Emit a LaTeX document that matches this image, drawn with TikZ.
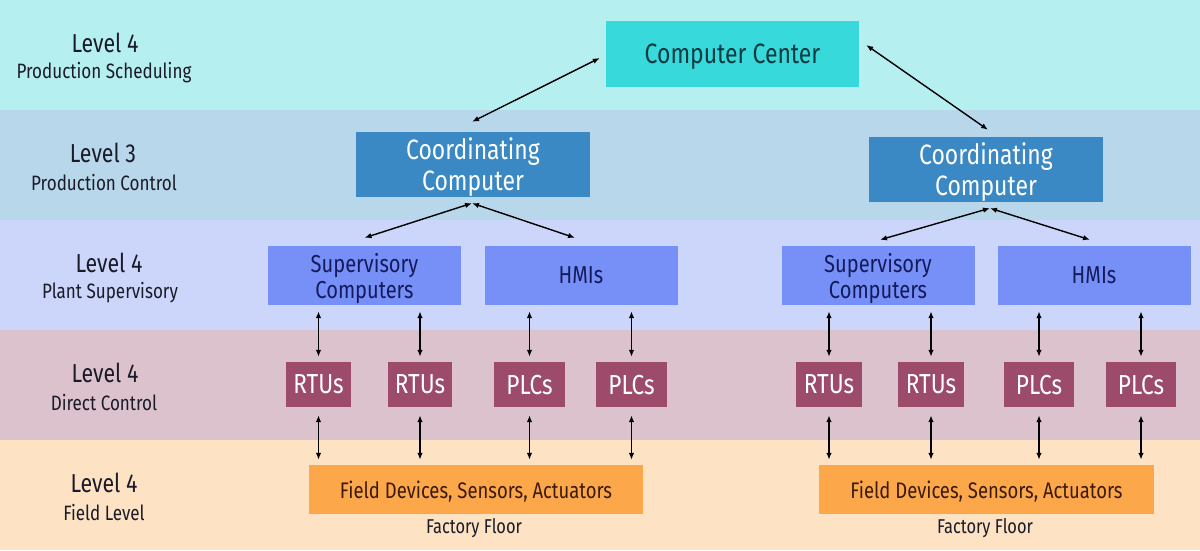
\documentclass[tikz,border=0pt]{standalone}
\usepackage{fontspec}
\setmainfont{Fira Sans}[FakeStretch=0.82]
\usetikzlibrary{arrows.meta,calc}
\definecolor{bandA}{HTML}{B6EFF0}
\definecolor{bandB}{HTML}{B9D7EA}
\definecolor{bandC}{HTML}{CBD6FA}
\definecolor{bandD}{HTML}{DBC2CD}
\definecolor{bandE}{HTML}{FDE2C3}
\definecolor{ccfill}{HTML}{38D9DB}
\definecolor{ccText}{HTML}{0D3A40}
\definecolor{coordfill}{HTML}{3A88C4}
\definecolor{supfill}{HTML}{7690F8}
\definecolor{supText}{HTML}{141A5A}
\definecolor{rtufill}{HTML}{9C4C6A}
\definecolor{fieldfill}{HTML}{FCA84A}
\definecolor{fieldText}{HTML}{3A1A0A}
\definecolor{lblText}{HTML}{1A1A28}
\begin{document}
\begin{tikzpicture}[x=1pt,y=-1pt,
  box/.style={rectangle,inner sep=0pt,align=center,text depth=0pt},
  ccbox/.style={box,fill=ccfill,text=ccText,minimum width=253pt,minimum height=66pt,font=\fontsize{28}{30}\selectfont},
  coordbox/.style={box,fill=coordfill,text=white,minimum width=234pt,minimum height=65pt,font=\fontsize{28}{31}\selectfont},
  supbox/.style={box,fill=supfill,text=supText,minimum width=193pt,minimum height=59pt,font=\fontsize{24.5}{26}\selectfont},
  rtubox/.style={box,fill=rtufill,text=white,minimum height=45pt,font=\fontsize{27.5}{28}\selectfont},
  fieldbox/.style={box,fill=fieldfill,text=fieldText,minimum width=334pt,minimum height=49pt,font=\fontsize{22.5}{24}\selectfont},
  lvl/.style={text=lblText,font=\fontsize{26}{28}\selectfont},
  sub/.style={text=lblText,font=\fontsize{20.8}{22}\selectfont},
  floor/.style={text=lblText,font=\fontsize{20}{22}\selectfont},
  conn/.style={black,line width=1.4pt,{Latex[length=7pt,width=5.5pt]}-{Latex[length=7pt,width=5.5pt]}}
]
\useasboundingbox (0,0) rectangle (1200,550);
% bands
\fill[bandA] (0,0) rectangle (1200,110);
\fill[bandB] (0,110) rectangle (1200,220);
\fill[bandC] (0,220) rectangle (1200,330);
\fill[bandD] (0,330) rectangle (1200,440);
\fill[bandE] (0,440) rectangle (1200,550);
% level labels
\node[lvl] (l1a) at (105,43) {Level 4};
\node[sub] (l1b) at (104,73) {Production Scheduling};
\node[lvl] (l2a) at (103,153) {Level 3};
\node[sub] (l2b) at (104,183) {Production Control};
\node[lvl] (l3a) at (109,263) {Level 4};
\node[sub] (l3b) at (110,293) {Plant Supervisory};
\node[lvl] (l4a) at (105,373) {Level 4};
\node[sub] (l4b) at (104,403) {Direct Control};
\node[lvl] (l5a) at (104,483) {Level 4};
\node[sub] (l5b) at (104,513) {Field Level};
% boxes
\node[ccbox] (cc) at (732.5,54) {Computer Center};
\node[coordbox] (cl) at (473,164.5) {Coordinating\\Computer};
\node[coordbox] (cr) at (986,169.5) {Coordinating\\Computer};
\node[supbox] (sl) at (364.5,275.5) {Supervisory\\Computers};
\node[supbox] (hl) at (581,275.5) {HMIs};
\node[supbox] (sr) at (878,275.5) {Supervisory\\Computers};
\node[supbox] (hr) at (1094,275.5) {HMIs};
\node[rtubox,minimum width=65pt] (r1) at (318.5,384.5) {RTUs};
\node[rtubox,minimum width=64pt] (r2) at (420,384.5) {RTUs};
\node[rtubox,minimum width=71pt] (p1) at (529.5,384.5) {PLCs};
\node[rtubox,minimum width=71pt] (p2) at (631.5,384.5) {PLCs};
\node[rtubox,minimum width=66pt] (r3) at (829,384.5) {RTUs};
\node[rtubox,minimum width=66pt] (r4) at (931,384.5) {RTUs};
\node[rtubox,minimum width=70pt] (p3) at (1039,384.5) {PLCs};
\node[rtubox,minimum width=70pt] (p4) at (1141,384.5) {PLCs};
\node[fieldbox] (fl) at (476,489.5) {Field Devices, Sensors, Actuators};
\node[fieldbox,minimum width=335pt] (fr) at (986.5,489.5) {Field Devices, Sensors, Actuators};
\node[floor] (ffl) at (474,528) {Factory Floor};
\node[floor] (ffr) at (985,528) {Factory Floor};
% connector end points
\coordinate (ccL) at ($(cc.west)+(-6,4)$);
\coordinate (clT) at ($(cl.north)+(-1,-10)$);
\coordinate (ccR) at ($(cc.east)+(7,-9)$);
\coordinate (crT) at ($(cr.north)+(2,-7)$);
\coordinate (clB) at ($(cl.south)+(-1,6)$);
\coordinate (slT) at ($(sl.north)+(0,-8)$);
\coordinate (hlT) at ($(hl.north)+(-6,-8)$);
\coordinate (crB) at ($(cr.south)+(4,6)$);
\coordinate (srT) at ($(sr.north)+(2,-6)$);
\coordinate (hrT) at ($(hr.north)+(-4,-6)$);
\draw[conn] (ccL) -- (clT);
\draw[conn] (ccR) -- (crT);
\draw[conn] (clB) -- (slT);
\draw[conn] (clB) -- (hlT);
\draw[conn] (crB) -- (srT);
\draw[conn] (crB) -- (hrT);
% vertical connectors
\foreach \r/\s in {r1/sl,r2/sl,p1/hl,p2/hl,r3/sr,r4/sr,p3/hr,p4/hr}{
  \draw[conn,shorten <=6pt,shorten >=5pt] (\s.south -| \r) -- (\r.north);
}
\foreach \r/\f in {r1/fl,r2/fl,p1/fl,p2/fl,r3/fr,r4/fr,p3/fr,p4/fr}{
  \draw[conn,shorten <=8pt,shorten >=5pt] (\r.south) -- (\f.north -| \r);
}
\end{tikzpicture}
\end{document}
